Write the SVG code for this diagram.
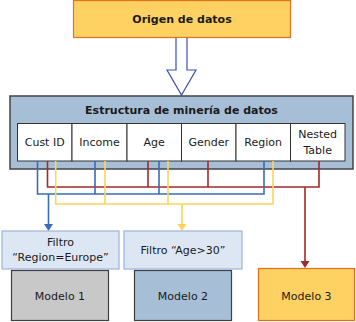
<svg xmlns="http://www.w3.org/2000/svg" width="356" height="322" viewBox="0 0 356 322">
<defs>
<style>
text{font-family:Verdana,"DejaVu Sans",sans-serif;font-size:11px;fill:#1a1a1a;text-anchor:middle}
.b{font-weight:bold}
.cell{fill:#fff;stroke:#333;stroke-width:1}
.blue{stroke:#3a6cb8;stroke-width:1.6;fill:none}
.red{stroke:#a32a2a;stroke-width:1.6;fill:none}
.yel{stroke:#ffd45a;stroke-width:1.6;fill:none}
.filt{fill:#dde7f4;stroke:#9db5da;stroke-width:1.2}
</style>
<marker id="ab" markerWidth="8" markerHeight="8" refX="4" refY="7" orient="auto-start-reverse" markerUnits="userSpaceOnUse" viewBox="0 0 8 8"><path d="M0,0 L8,0 L4,8 Z" fill="#3a6cb8" transform="rotate(-90 4 4)"/></marker>
</defs>
<g id="origen">
<rect x="73.5" y="0.5" width="217" height="37" fill="#fdd262" stroke="#e4701e" stroke-width="1.2"/>
<text class="b" x="182" y="23">Origen de datos</text>
</g>
<g id="flecha">
<path d="M176,38 L176,70 L167,70 L181.5,95 L196,70 L187,70 L187,38" fill="#fff" stroke="#3b52b0" stroke-width="1.2"/>
</g>
<g id="estructura">
<rect x="10" y="96" width="343" height="73" fill="#a6bfd7" stroke="#444" stroke-width="1.5"/>
<text class="b" x="181.5" y="114">Estructura de minería de datos</text>
<rect class="cell" x="17.5" y="123.5" width="54.5" height="37.5"/>
<rect class="cell" x="72" y="123.5" width="55" height="37.5"/>
<rect class="cell" x="127" y="123.5" width="54.5" height="37.5"/>
<rect class="cell" x="181.5" y="123.5" width="54.5" height="37.5"/>
<rect class="cell" x="236" y="123.5" width="54.5" height="37.5"/>
<rect class="cell" x="290.5" y="123.5" width="54.5" height="37.5"/>
<text x="44.7" y="146">Cust ID</text>
<text x="99.5" y="146">Income</text>
<text x="154.2" y="146">Age</text>
<text x="208.7" y="146">Gender</text>
<text x="263.2" y="146">Region</text>
<text x="317.7" y="138">Nested</text>
<text x="317.7" y="154">Table</text>
</g>
<g id="conectores">
<path class="red" d="M47.5,161 V187 H319 V161 M148,161 V187 M208,161 V187 M305,187 V261"/>
<path class="blue" d="M37.5,161 V194 H264 V161 M95,161 V194 M159,161 V194 M48.5,194 V225"/>
<path class="yel" d="M55.7,161 V204 H273 V161 M105,161 V204 M168,161 V204 M182,204 V225"/>
<path d="M44,224 L53,224 L48.5,231 Z" fill="#3a6cb8"/>
<path d="M177.5,224 L186.5,224 L182,231 Z" fill="#ffd45a"/>
<path d="M300.5,261 L309.5,261 L305,268 Z" fill="#a32a2a"/>
</g>
<g id="filtro1">
<rect class="filt" x="2" y="231" width="117" height="38"/>
<text x="60.5" y="246">Filtro</text>
<text x="60.5" y="261">“Region=Europe”</text>
</g>
<g id="filtro2">
<rect class="filt" x="124" y="231" width="118" height="38"/>
<text x="183" y="254">Filtro “Age&gt;30”</text>
</g>
<g id="modelo1">
<rect x="11.5" y="270.5" width="97" height="50" fill="#c8c8c8" stroke="#404040" stroke-width="1.2"/>
<text x="60" y="300">Modelo 1</text>
</g>
<g id="modelo2">
<rect x="134.5" y="270.5" width="97" height="50" fill="#a6bfd7" stroke="#404040" stroke-width="1.2"/>
<text x="183" y="300">Modelo 2</text>
</g>
<g id="modelo3">
<rect x="258.5" y="268.5" width="96" height="52" fill="#fdd262" stroke="#e4701e" stroke-width="1.2"/>
<text x="306.5" y="300">Modelo 3</text>
</g>
</svg>
